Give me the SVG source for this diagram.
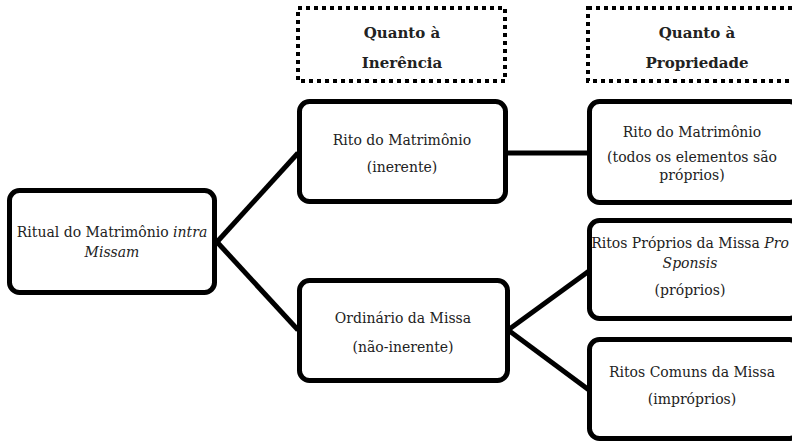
<svg xmlns="http://www.w3.org/2000/svg" width="792" height="444" viewBox="0 0 792 444">
<style>
.box{fill:#fff;stroke:#000;stroke-width:5}
.hdr{fill:none;stroke:#000;stroke-width:4;stroke-dasharray:4 4}
.t{font-family:"DejaVu Serif","Liberation Serif",serif;font-size:14px;fill:#222;text-anchor:middle}
.b{font-weight:bold;font-size:15px}
.ln{stroke:#000;stroke-width:5;fill:none}
</style>
<rect width="792" height="444" fill="#fff"/>
<g id="connectors">
<line class="ln" x1="217" y1="242" x2="298" y2="153"/>
<line class="ln" x1="217" y1="242" x2="298" y2="330"/>
<line class="ln" x1="507" y1="153" x2="589" y2="153"/>
<line class="ln" x1="508" y1="330" x2="589" y2="271"/>
<line class="ln" x1="508" y1="330" x2="589" y2="390"/>
</g>
<g id="hdr1">
<rect class="hdr" x="298" y="8" width="207" height="73"/>
<text class="t b" x="402" y="38">Quanto à</text>
<text class="t b" x="402" y="68">Inerência</text>
</g>
<g id="hdr2">
<rect class="hdr" x="588" y="8" width="212" height="73"/>
<text class="t b" x="697" y="38">Quanto à</text>
<text class="t b" x="697" y="68">Propriedade</text>
</g>
<g id="root">
<rect class="box" x="9.5" y="190.5" width="205" height="102" rx="10"/>
<text class="t" x="112" y="237">Ritual do Matrimônio <tspan font-style="italic">intra</tspan></text>
<text class="t" x="112" y="257" font-style="italic">Missam</text>
</g>
<g id="rito">
<rect class="box" x="299.5" y="101.5" width="206" height="100" rx="10"/>
<text class="t" x="402" y="145">Rito do Matrimônio</text>
<text class="t" x="402" y="172">(inerente)</text>
</g>
<g id="ordinario">
<rect class="box" x="299.5" y="280.5" width="208" height="100" rx="10"/>
<text class="t" x="403" y="323">Ordinário da Missa</text>
<text class="t" x="403" y="352">(não-inerente)</text>
</g>
<g id="rito2">
<rect class="box" x="589.5" y="101.5" width="210" height="101" rx="10"/>
<text class="t" x="692" y="137">Rito do Matrimônio</text>
<text class="t" x="692" y="162">(todos os elementos são</text>
<text class="t" x="692" y="180">próprios)</text>
</g>
<g id="proprios">
<rect class="box" x="589.5" y="220.5" width="210" height="98" rx="10"/>
<text class="t" x="690" y="248">Ritos Próprios da Missa <tspan font-style="italic">Pro</tspan></text>
<text class="t" x="690" y="268" font-style="italic">Sponsis</text>
<text class="t" x="690" y="295">(próprios)</text>
</g>
<g id="comuns">
<rect class="box" x="589.5" y="339.5" width="210" height="99" rx="10"/>
<text class="t" x="692" y="377">Ritos Comuns da Missa</text>
<text class="t" x="692" y="404">(impróprios)</text>
</g>
</svg>
